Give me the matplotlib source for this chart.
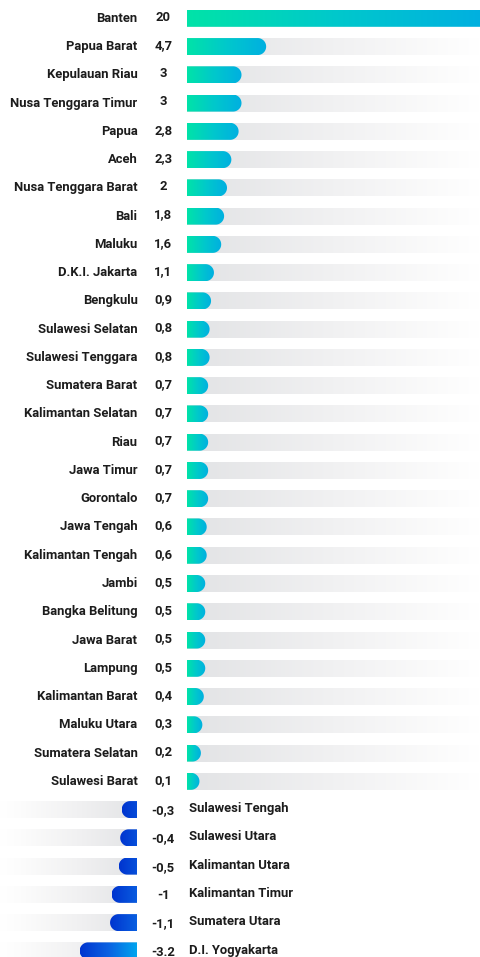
import numpy as np
import matplotlib
matplotlib.use("Agg")
import matplotlib.pyplot as plt
from matplotlib.colors import LinearSegmentedColormap, Normalize
from matplotlib.patches import Polygon
from matplotlib.transforms import blended_transform_factory

# ---- data -------------------------------------------------------------
provinces = [
    "Banten", "Papua Barat", "Kepulauan Riau", "Nusa Tenggara Timur", "Papua",
    "Aceh", "Nusa Tenggara Barat", "Bali", "Maluku", "D.K.I. Jakarta",
    "Bengkulu", "Sulawesi Selatan", "Sulawesi Tenggara", "Sumatera Barat",
    "Kalimantan Selatan", "Riau", "Jawa Timur", "Gorontalo", "Jawa Tengah",
    "Kalimantan Tengah", "Jambi", "Bangka Belitung", "Jawa Barat", "Lampung",
    "Kalimantan Barat", "Maluku Utara", "Sumatera Selatan", "Sulawesi Barat",
    "Sulawesi Tengah", "Sulawesi Utara", "Kalimantan Utara", "Kalimantan Timur",
    "Sumatera Utara", "D.I. Yogyakarta",
]
values = [
    20, 4.7, 3, 3, 2.8, 2.3, 2, 1.8, 1.6, 1.1,
    0.9, 0.8, 0.8, 0.7, 0.7, 0.7, 0.7, 0.7, 0.6, 0.6,
    0.5, 0.5, 0.5, 0.5, 0.4, 0.3, 0.2, 0.1,
    -0.3, -0.4, -0.5, -1, -1.1, -3.2,
]
value_labels = [
    "20", "4,7", "3", "3", "2,8", "2,3", "2", "1,8", "1,6", "1,1",
    "0,9", "0,8", "0,8", "0,7", "0,7", "0,7", "0,7", "0,7", "0,6", "0,6",
    "0,5", "0,5", "0,5", "0,5", "0,4", "0,3", "0,2", "0,1",
    "-0,3", "-0,4", "-0,5", "-1", "-1,1", "-3.2",
]

# ---- layout (pixels) --------------------------------------------------
W, H, DPI = 480, 957, 100
PX_PER_UNIT = 14.5          # horizontal scale
ROW_PX = 28.26              # row pitch
FIRST_ROW_PX = 18.3         # centre of first row from top
POS_ZERO_PX = 187           # zero line for positive bars
NEG_ZERO_PX = 137           # zero line for negative bars
BAR_PX = 17
CAP_PX = 8.5
PAD_PX = 2.5

TEXT = "#1c1c1c"
FONT = ["Roboto", "DejaVu Sans"]
FS = 9.4

pos_cmap = LinearSegmentedColormap.from_list("pos", ["#00e3a8", "#00c8cc", "#00afe1"])
neg_cmap = LinearSegmentedColormap.from_list("neg", ["#0034cf", "#0a62e2", "#00a6ef"])
pos_track = LinearSegmentedColormap.from_list("ptrack", ["#e2e3e5", "#f1f1f2", "#ffffff"])
neg_track = LinearSegmentedColormap.from_list(
    "ntrack", [(0.0, "#ffffff"), (0.15, "#fcfcfc"), (0.6, "#f0f0f1"), (1.0, "#e3e4e6")])

fig = plt.figure(figsize=(W / DPI, H / DPI), dpi=DPI)
fig.patch.set_facecolor("white")

ylim = ((H - FIRST_ROW_PX) / ROW_PX, -FIRST_ROW_PX / ROW_PX)

ax_pos = fig.add_axes([POS_ZERO_PX / W, 0, (W - POS_ZERO_PX) / W, 1])
ax_neg = fig.add_axes([0, 0, NEG_ZERO_PX / W, 1])
pos_xlim = (0, (W - POS_ZERO_PX) / PX_PER_UNIT)
neg_xlim = (-NEG_ZERO_PX / PX_PER_UNIT, 0)
for ax, xl in ((ax_pos, pos_xlim), (ax_neg, neg_xlim)):
    ax.set_xlim(*xl)
    ax.set_ylim(*ylim)
    ax.axis("off")

ry = BAR_PX / 2 / ROW_PX
rx = CAP_PX / PX_PER_UNIT
pad = PAD_PX / PX_PER_UNIT
grad = np.linspace(0, 1, 256).reshape(1, -1)


def draw_track(ax, y, x0, x1, cmap):
    ax.imshow(grad, extent=(x0, x1, y + ry, y - ry), cmap=cmap,
              aspect="auto", interpolation="bilinear", zorder=1)


def draw_bar(ax, y, v):
    sign = 1 if v >= 0 else -1
    straight = abs(v) + pad
    t = np.linspace(-np.pi / 2, np.pi / 2, 40)
    arc_x = straight + rx * np.cos(t)
    arc_y = y + ry * np.sin(t)
    xs = np.concatenate([[0, straight], arc_x, [straight, 0]]) * sign
    ys = np.concatenate([[y - ry, y - ry], arc_y, [y + ry, y + ry]])
    patch = Polygon(np.column_stack([xs, ys]), closed=True,
                    facecolor="none", edgecolor="none")
    ax.add_patch(patch)
    end = sign * (straight + rx)
    if sign > 0:
        im = ax.imshow(grad, extent=(0, end, y + ry, y - ry), cmap=pos_cmap,
                       aspect="auto", interpolation="bilinear", zorder=2)
    else:
        length = straight + rx
        dist = np.linspace(0, length, 256).reshape(1, -1)
        full = 57 / PX_PER_UNIT
        im = ax.imshow(dist, extent=(end, 0, y + ry, y - ry), cmap=neg_cmap,
                       norm=Normalize(0, full), aspect="auto",
                       interpolation="bilinear", zorder=2)
    im.set_clip_path(patch)


for i, v in enumerate(values):
    if v >= 0:
        draw_track(ax_pos, i, 0, pos_xlim[1], pos_track)
        draw_bar(ax_pos, i, v)
    else:
        draw_track(ax_neg, i, neg_xlim[0], 0, neg_track)
        draw_bar(ax_neg, i, v)

for ax, xl in ((ax_pos, pos_xlim), (ax_neg, neg_xlim)):
    ax.set_xlim(*xl)
    ax.set_ylim(*ylim)

# ---- text -------------------------------------------------------------
tr = blended_transform_factory(fig.transFigure, ax_pos.transData)
for i, (name, lab, v) in enumerate(zip(provinces, value_labels, values)):
    if v >= 0:
        fig.text(137.5 / W, i, name, transform=tr, ha="right", va="center",
                 fontsize=FS, fontweight="bold", color=TEXT, family=FONT)
        fig.text(163.3 / W, i - 0.04, lab, transform=tr, ha="center",
                 va="center", fontsize=FS, fontweight="bold", color=TEXT,
                 family=FONT)
    else:
        fig.text(189 / W, i - 0.03, name, transform=tr, ha="left",
                 va="center", fontsize=FS, fontweight="bold", color=TEXT,
                 family=FONT)
        fig.text(163.3 / W, i + 0.04, lab, transform=tr, ha="center",
                 va="center", fontsize=FS, fontweight="bold", color=TEXT,
                 family=FONT)

fig.savefig("out.png", dpi=DPI, facecolor="white")
